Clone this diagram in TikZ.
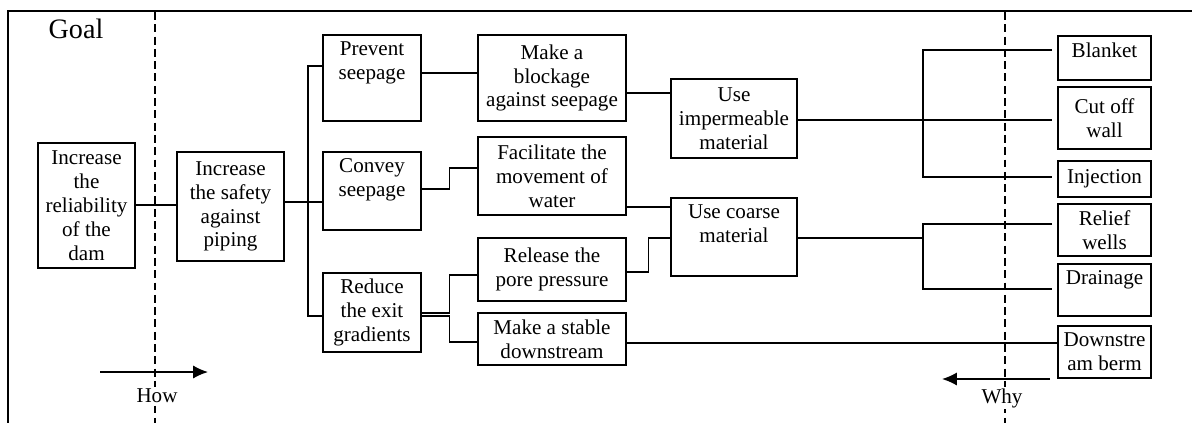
\documentclass[tikz,border=0pt]{standalone}
\usepackage{fontspec}
\setmainfont{Liberation Serif}
\usetikzlibrary{fit,calc,arrows.meta}
\begin{document}
\begin{tikzpicture}[x=0.02cm,y=-0.02cm,
  box/.style={draw,line width=0.8pt,inner sep=0pt},
  txt/.style={font=\fontsize{12}{13.6}\selectfont,align=center,inner sep=0pt},
  conn/.style={line width=0.75pt},
  thickconn/.style={line width=1.1pt},
  guide/.style={line width=0.6pt,dash pattern=on 4.5pt off 2.5pt},
  lbl/.style={font=\fontsize{12}{13.6}\selectfont,fill=white,inner sep=1pt},
  arr/.style={line width=0.8pt,-{Latex[length=8.5pt,width=7.5pt]}}]
\useasboundingbox (0,0) rectangle (1192,423);
% frame
\coordinate (fTL) at (8,11);
\coordinate (fTR) at (1192,11);
\coordinate (fBL) at (8,423);
\draw[line width=0.8pt] (fTR) -- (fTL) -- (fBL);
% guide lines
\coordinate (gLt) at (155,12);
\coordinate (gLb) at (155,423);
\coordinate (gRt) at (1005,12);
\coordinate (gRb) at (1005,423);
\draw[guide] (gLt) -- (gLb);
\draw[guide] (gRt) -- (gRb);
% boxes
\node[box,fit={(38,143)(135,268)}] (rel) {};
\node[box,fit={(177,152)(284,261)}] (saf) {};
\node[box,fit={(323,35)(421,121)}] (pv) {};
\node[box,fit={(323,152)(421,230)}] (cv) {};
\node[box,fit={(323,273)(421,352)}] (rd) {};
\node[box,fit={(478,35)(626,121)}] (mb) {};
\node[box,fit={(478,137)(626,215)}] (fc) {};
\node[box,fit={(478,238)(626,301)}] (rl) {};
\node[box,fit={(478,313)(626,365)}] (ms) {};
\node[box,fit={(671,79)(797,158)}] (ui) {};
\node[box,fit={(671,198)(797,276)}] (uc) {};
\node[box,fit={(1058,36)(1151,80)}] (bl) {};
\node[box,fit={(1058,87)(1151,149)}] (co) {};
\node[box,fit={(1058,161)(1151,197)}] (inj) {};
\node[box,fit={(1058,204)(1151,256)}] (rw) {};
\node[box,fit={(1058,264)(1151,316)}] (dr) {};
\node[box,fit={(1058,326)(1151,378)}] (db) {};
% texts
\node[txt] (relt) at (rel.center) {Increase\\the\\reliability\\of the\\dam};
\node[txt] (saft) at (saf.center) {Increase\\the safety\\against\\piping};
\node[txt,anchor=north] (pvt) at ($(pv.north)+(0,7)$) {Prevent\\seepage};
\node[txt,anchor=north] (cvt) at ($(cv.north)+(0,7)$) {Convey\\seepage};
\node[txt] (rdt) at (rd.center) {Reduce\\the exit\\gradients};
\node[txt] (mbt) at (mb.center) {Make a\\blockage\\against seepage};
\node[txt] (fct) at (fc.center) {Facilitate the\\movement of\\water};
\node[txt] (rlt) at (rl.center) {Release the\\pore pressure};
\node[txt] (mst) at (ms.center) {Make a stable\\downstream};
\node[txt] (uit) at (ui.center) {Use\\impermeable\\material};
\node[txt,anchor=north] (uct) at ($(uc.north)+(0,7)$) {Use coarse\\material};
\node[txt,anchor=north] (blt) at ($(bl.north)+(0,7)$) {Blanket};
\node[txt] (cot) at (co.center) {Cut off\\wall};
\node[txt] (injt) at (inj.center) {Injection};
\node[txt] (rwt) at (rw.center) {Relief\\wells};
\node[txt,anchor=north] (drt) at ($(dr.north)+(0,7)$) {Drainage};
\node[txt] (dbt) at (db.center) {Downstre\\am berm};
% connectors
\coordinate (busA) at (308,202);
\coordinate (busB) at (923,120);
\coordinate (busC) at (923,238);
\draw[conn] (rel.east |- 0,205) -- (saf.west |- 0,205);
\draw[conn] (saf.east |- 0,202) -- (cv.west |- 0,202);
\draw[conn] (pv.west |- 0,66) -| (busA) |- (rd.west |- 0,316);
\draw[conn] (pv.east |- 0,73) -- (mb.west |- 0,73);
\draw[conn] (cv.east |- 0,189) -- ++(28,0) |- (fc.west |- 0,168);
\draw[conn] (rd.east |- 0,313) -- ++(28,0) |- (rl.west |- 0,275);
\draw[conn] (rd.east |- 0,316) -- ++(28,0) |- (ms.west |- 0,342);
\draw[conn] (mb.east |- 0,93) -- (ui.west |- 0,93);
\draw[conn] (fc.east |- 0,207) -- (uc.west |- 0,207);
\draw[conn] (rl.east |- 0,272) -- ++(22,0) |- (uc.west |- 0,238);
\draw[conn] (ms.east |- 0,343) -- (db.west |- 0,343);
\draw[thickconn,shorten >=3pt] (ui.east |- 0,120) -- (co.west |- 0,120);
\draw[conn,shorten <=3pt,shorten >=3pt] (bl.west |- 0,50) -| (busB) |- (inj.west |- 0,177);
\draw[thickconn] (uc.east |- 0,238) -- (busC);
\draw[conn,shorten <=3pt,shorten >=3pt] (rw.west |- 0,224) -| (busC) |- (dr.west |- 0,289);
% arrows and labels
\coordinate (howS) at (100,372);
\coordinate (howE) at (208,372);
\coordinate (whyS) at (1050,379);
\coordinate (whyE) at (942,379);
\draw[arr] (howS) -- (howE);
\draw[arr] (whyS) -- (whyE);
\node[lbl] (how) at (157,396) {How};
\node[lbl] (why) at (1002,398) {Why};
\node[font=\fontsize{16}{18}\selectfont,inner sep=0pt] (goal) at (76,29) {Goal};
\end{tikzpicture}
\end{document}
